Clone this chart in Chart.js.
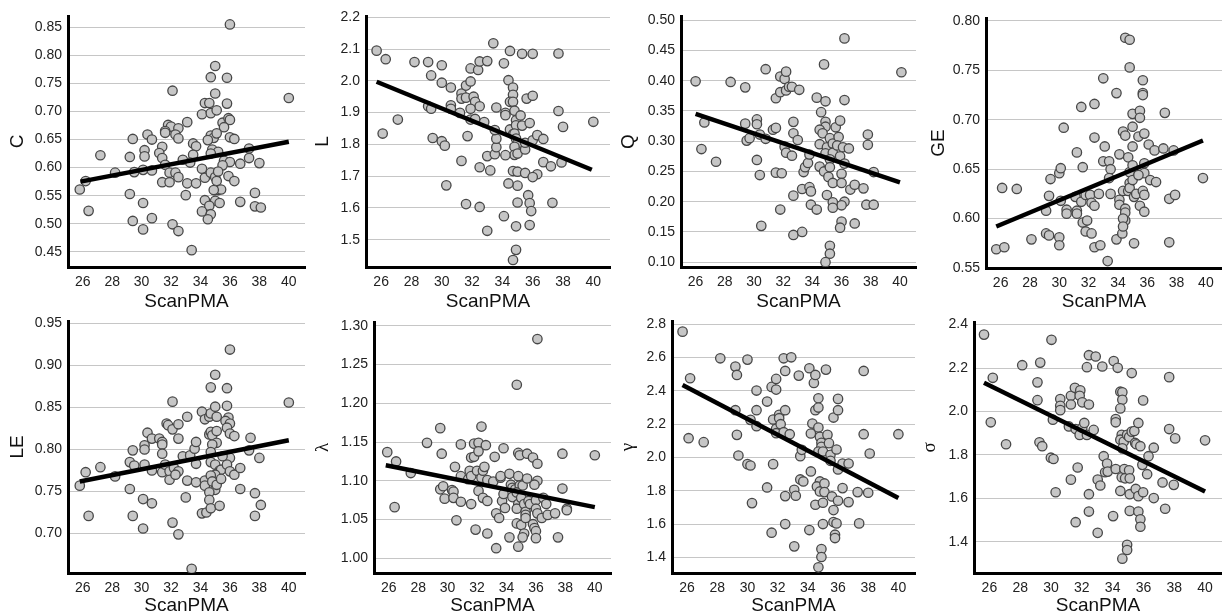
<!DOCTYPE html>
<html>
<head>
<meta charset="utf-8">
<script src="https://cdn.jsdelivr.net/npm/chart.js@4.4.1/dist/chart.umd.min.js"></script>
<style>
  html, body { margin: 0; padding: 0; background: #fff; }
  #wrap { position: relative; width: 1222px; height: 615px; overflow: hidden; }
  canvas { position: absolute; }
</style>
</head>
<body>
<div id="wrap"></div>
<script>
// shared x axis (ScanPMA)
const xTicks = [26, 28, 30, 32, 34, 36, 38, 40];
const xTitle = "ScanPMA";

// --- C ---
const pointsC = [[36.0,0.855],[35.0,0.781],[34.7,0.761],[35.8,0.760],[32.1,0.737],[34.3,0.715],[34.6,0.715],[35.0,0.732],[35.8,0.714],[40.0,0.724],[34.1,0.695],[34.7,0.697],[35.1,0.702],[33.1,0.681],[35.5,0.680],[35.9,0.688],[36.0,0.685],[35.6,0.672],[31.8,0.676],[32.0,0.673],[32.5,0.670],[31.6,0.665],[31.6,0.662],[32.3,0.659],[32.5,0.652],[30.4,0.659],[30.7,0.650],[29.4,0.651],[34.7,0.657],[34.9,0.653],[35.1,0.661],[36.0,0.654],[36.3,0.651],[34.5,0.649],[31.4,0.637],[30.2,0.631],[30.2,0.620],[29.2,0.619],[27.2,0.622],[31.2,0.626],[31.4,0.617],[33.5,0.643],[33.7,0.638],[33.5,0.623],[33.3,0.609],[32.8,0.614],[34.8,0.632],[35.2,0.628],[34.7,0.625],[35.6,0.612],[36.0,0.610],[35.5,0.604],[36.7,0.607],[37.3,0.617],[37.3,0.634],[38.0,0.608],[28.2,0.591],[29.5,0.592],[30.1,0.596],[30.7,0.595],[31.6,0.605],[31.9,0.591],[32.3,0.591],[32.5,0.583],[31.4,0.574],[31.9,0.574],[33.1,0.572],[33.7,0.572],[34.1,0.598],[34.3,0.582],[34.7,0.591],[35.0,0.583],[35.1,0.576],[35.2,0.593],[35.9,0.585],[36.3,0.576],[35.0,0.560],[35.2,0.560],[35.4,0.561],[34.9,0.560],[25.8,0.561],[26.2,0.576],[29.2,0.553],[33.0,0.551],[37.7,0.555],[34.3,0.542],[35.0,0.541],[35.3,0.537],[36.7,0.539],[30.1,0.537],[34.6,0.532],[37.7,0.531],[38.1,0.529],[26.4,0.523],[34.1,0.522],[34.7,0.517],[34.5,0.508],[29.4,0.505],[30.7,0.510],[32.1,0.499],[30.1,0.490],[32.5,0.487],[33.4,0.453]];
const fitC = [[25.85,0.575],[40.0,0.646]];
const ticksC = [0.45,0.50,0.55,0.60,0.65,0.70,0.75,0.80,0.85];

// --- L ---
const pointsL = [[25.7,2.095],[26.3,2.068],[26.1,1.834],[27.1,1.878],[28.2,2.059],[29.1,2.059],[29.3,2.017],[30.0,2.049],[30.0,1.994],[30.6,1.979],[29.1,1.920],[29.3,1.912],[29.4,1.820],[30.0,1.810],[30.2,1.796],[30.3,1.671],[30.6,1.923],[30.6,1.912],[31.2,1.899],[31.3,1.960],[31.3,1.944],[31.6,1.947],[31.6,1.985],[31.9,1.998],[31.9,2.039],[32.4,2.034],[32.5,2.061],[33.0,2.062],[33.4,2.118],[32.1,1.950],[32.2,1.934],[32.5,1.920],[31.9,1.912],[31.9,1.878],[32.2,1.880],[32.8,1.870],[31.7,1.826],[31.3,1.748],[31.6,1.612],[32.5,1.728],[32.5,1.603],[33.0,1.763],[33.2,1.718],[33.0,1.528],[33.5,1.769],[33.6,1.791],[33.6,1.818],[33.6,1.916],[33.5,1.845],[34.1,2.055],[34.4,2.002],[34.5,2.094],[34.7,1.979],[34.7,1.956],[34.5,1.934],[34.7,1.934],[34.2,1.899],[34.2,1.892],[34.8,1.906],[34.5,1.847],[34.7,1.832],[34.9,1.876],[34.9,1.860],[35.2,1.891],[35.3,1.859],[34.8,1.834],[34.9,1.818],[35.0,1.803],[34.8,1.792],[34.8,1.767],[35.0,1.771],[35.5,1.784],[35.5,1.805],[34.2,1.766],[34.7,1.716],[35.0,1.714],[35.5,1.710],[35.0,1.670],[34.4,1.677],[35.7,1.640],[35.8,1.615],[35.9,1.590],[35.0,1.617],[34.1,1.574],[34.9,1.542],[35.8,1.546],[34.9,1.468],[34.7,1.436],[35.3,2.085],[36.0,2.085],[37.7,2.086],[35.6,1.944],[36.0,1.953],[35.8,1.867],[36.0,1.813],[36.3,1.829],[36.7,1.817],[36.3,1.706],[36.0,1.697],[36.7,1.744],[37.2,1.731],[37.7,1.905],[38.0,1.855],[37.9,1.743],[37.3,1.616],[40.0,1.871]];
const fitL = [[25.7,1.997],[39.9,1.720]];
const ticksL = [1.5,1.6,1.7,1.8,1.9,2.0,2.1,2.2];

// --- Q ---
const pointsQ = [[26.0,0.399],[26.6,0.331],[26.4,0.287],[27.4,0.266],[28.4,0.398],[29.4,0.389],[29.4,0.329],[29.5,0.301],[29.7,0.305],[30.2,0.336],[30.2,0.328],[30.4,0.311],[30.8,0.304],[30.8,0.419],[30.2,0.269],[30.4,0.244],[30.5,0.160],[31.3,0.319],[31.5,0.322],[31.5,0.371],[31.8,0.407],[31.8,0.381],[32.1,0.403],[32.2,0.415],[32.2,0.384],[32.4,0.390],[32.6,0.390],[33.1,0.385],[31.5,0.248],[31.9,0.247],[31.8,0.187],[32.1,0.291],[32.2,0.281],[32.6,0.276],[32.7,0.332],[32.7,0.313],[33.0,0.302],[32.7,0.210],[32.7,0.145],[33.3,0.150],[33.3,0.221],[33.4,0.249],[33.5,0.257],[33.7,0.264],[33.8,0.224],[33.9,0.217],[33.9,0.195],[34.3,0.187],[33.8,0.278],[34.3,0.372],[34.6,0.348],[34.8,0.427],[34.9,0.366],[34.9,0.332],[34.9,0.324],[34.5,0.319],[34.7,0.313],[34.5,0.295],[34.5,0.258],[34.8,0.250],[35.0,0.290],[34.9,0.280],[35.2,0.305],[35.4,0.296],[35.4,0.281],[35.2,0.270],[35.2,0.257],[35.1,0.241],[35.4,0.231],[35.6,0.323],[35.8,0.307],[35.7,0.293],[35.9,0.334],[36.2,0.368],[36.1,0.290],[36.5,0.288],[35.9,0.275],[36.2,0.263],[36.0,0.246],[36.0,0.231],[36.2,0.200],[36.0,0.194],[35.0,0.211],[35.4,0.199],[35.4,0.190],[36.0,0.167],[35.9,0.157],[36.9,0.164],[36.6,0.220],[36.9,0.228],[37.5,0.222],[37.7,0.195],[38.2,0.195],[36.2,0.470],[37.8,0.311],[37.8,0.294],[38.2,0.249],[35.2,0.127],[35.2,0.114],[34.9,0.100],[40.1,0.414]];
const fitQ = [[26.0,0.345],[40.0,0.232]];
const ticksQ = [0.10,0.15,0.20,0.25,0.30,0.35,0.40,0.45,0.50];

// --- GE ---
const pointsGE = [[25.7,0.569],[26.25,0.571],[26.1,0.631],[27.1,0.630],[28.1,0.579],[29.1,0.585],[29.3,0.583],[29.1,0.608],[29.3,0.623],[29.4,0.640],[30.0,0.646],[30.1,0.651],[30.3,0.692],[30.0,0.581],[30.0,0.573],[30.1,0.618],[30.5,0.609],[30.5,0.605],[31.1,0.622],[31.2,0.608],[31.2,0.605],[31.2,0.667],[31.5,0.713],[31.5,0.617],[31.6,0.652],[31.6,0.596],[31.8,0.624],[31.9,0.598],[31.8,0.587],[32.1,0.624],[32.2,0.616],[32.4,0.613],[32.2,0.585],[32.4,0.571],[32.4,0.682],[32.4,0.716],[32.7,0.625],[32.8,0.573],[33.0,0.658],[33.0,0.742],[33.1,0.673],[33.3,0.557],[33.4,0.658],[33.5,0.650],[33.4,0.641],[33.5,0.625],[33.9,0.727],[34.1,0.665],[34.1,0.619],[34.1,0.614],[33.9,0.579],[34.3,0.585],[34.35,0.688],[34.5,0.684],[34.35,0.628],[34.5,0.610],[34.5,0.606],[34.5,0.598],[34.35,0.600],[34.35,0.592],[34.5,0.783],[34.8,0.781],[34.8,0.753],[34.7,0.662],[34.8,0.647],[34.7,0.628],[34.8,0.636],[34.8,0.631],[35.0,0.639],[35.0,0.654],[35.0,0.673],[35.0,0.706],[35.0,0.693],[35.1,0.622],[35.25,0.625],[35.1,0.575],[35.4,0.683],[35.5,0.709],[35.5,0.702],[35.7,0.727],[35.7,0.725],[35.7,0.740],[35.8,0.686],[35.8,0.656],[35.8,0.646],[35.4,0.644],[35.5,0.613],[35.8,0.607],[35.7,0.628],[35.8,0.624],[36.1,0.675],[36.2,0.639],[36.5,0.669],[36.6,0.637],[37.1,0.671],[37.2,0.707],[37.5,0.620],[37.9,0.624],[37.5,0.576],[37.8,0.669],[39.8,0.641]];
const fitGE = [[25.7,0.592],[39.8,0.679]];
const ticksGE = [0.55,0.60,0.65,0.70,0.75,0.80];

// --- LE ---
const pointsLE = [[25.8,0.757],[26.2,0.773],[26.4,0.721],[27.2,0.779],[28.2,0.768],[29.2,0.753],[29.2,0.785],[29.4,0.799],[29.4,0.721],[29.5,0.781],[30.2,0.782],[30.1,0.741],[30.1,0.706],[30.2,0.805],[30.2,0.800],[30.4,0.820],[30.7,0.813],[30.7,0.736],[30.7,0.775],[31.2,0.813],[31.4,0.809],[31.4,0.806],[31.4,0.795],[31.4,0.773],[31.6,0.782],[31.7,0.831],[31.8,0.829],[32.1,0.857],[32.1,0.824],[32.5,0.830],[32.5,0.813],[31.9,0.774],[31.9,0.764],[32.2,0.778],[32.5,0.774],[32.3,0.770],[32.1,0.713],[32.5,0.699],[32.8,0.792],[33.0,0.743],[33.1,0.839],[33.1,0.763],[33.3,0.793],[33.6,0.801],[33.7,0.809],[33.7,0.783],[33.7,0.761],[33.4,0.658],[34.1,0.845],[34.3,0.836],[34.3,0.763],[34.3,0.757],[34.1,0.724],[34.4,0.725],[34.7,0.874],[35.0,0.889],[34.6,0.839],[34.7,0.843],[35.0,0.851],[35.1,0.839],[34.6,0.818],[34.7,0.821],[34.8,0.817],[35.1,0.822],[35.1,0.808],[34.8,0.806],[34.7,0.797],[34.7,0.785],[35.0,0.782],[35.3,0.775],[35.4,0.776],[35.0,0.770],[34.7,0.769],[34.8,0.762],[35.0,0.752],[35.1,0.758],[34.6,0.749],[34.6,0.740],[34.7,0.730],[35.3,0.733],[35.4,0.765],[35.8,0.873],[35.8,0.852],[35.9,0.838],[35.7,0.834],[36.0,0.831],[35.8,0.826],[36.0,0.819],[36.3,0.816],[36.0,0.790],[35.8,0.782],[36.0,0.774],[36.3,0.770],[35.5,0.792],[36.7,0.778],[36.7,0.753],[36.0,0.919],[37.4,0.814],[37.3,0.799],[38.0,0.790],[37.7,0.748],[37.7,0.721],[38.1,0.734],[40.0,0.856]];
const fitLE = [[25.8,0.762],[40.0,0.811]];
const ticksLE = [0.70,0.75,0.80,0.85,0.90,0.95];

// --- lambda ---
const pointsLambda = [[25.9,1.137],[26.5,1.125],[26.4,1.066],[27.5,1.110],[28.6,1.149],[29.5,1.168],[29.6,1.135],[29.5,1.089],[29.7,1.093],[29.8,1.077],[30.3,1.088],[30.4,1.086],[30.4,1.078],[30.5,1.118],[30.9,1.147],[30.9,1.106],[30.9,1.073],[30.6,1.049],[31.4,1.102],[31.5,1.113],[31.6,1.106],[31.6,1.070],[31.6,1.130],[31.8,1.131],[31.8,1.148],[32.1,1.149],[32.1,1.138],[32.3,1.170],[32.6,1.146],[32.0,1.113],[32.1,1.087],[32.3,1.104],[32.4,1.113],[32.5,1.118],[32.7,1.101],[32.4,1.078],[32.7,1.074],[31.9,1.037],[32.7,1.032],[33.2,1.131],[33.1,1.099],[33.3,1.058],[33.5,1.052],[33.3,1.013],[33.6,1.104],[33.6,1.106],[33.8,1.142],[33.7,1.074],[33.8,1.083],[33.9,1.065],[34.2,1.027],[34.2,1.109],[34.3,1.095],[34.4,1.091],[34.4,1.079],[34.6,1.089],[34.7,1.224],[34.8,1.136],[34.9,1.133],[34.8,1.106],[34.9,1.094],[34.7,1.085],[34.8,1.070],[34.7,1.064],[34.7,1.045],[34.8,1.015],[35.0,1.078],[35.1,1.094],[35.0,1.043],[35.2,1.032],[35.1,1.027],[35.2,1.070],[35.3,1.060],[35.3,1.056],[35.3,1.052],[35.4,1.103],[35.4,1.135],[35.5,1.074],[35.6,1.070],[35.8,1.130],[36.1,1.122],[36.1,1.100],[35.9,1.095],[36.0,1.075],[36.0,1.064],[35.8,1.044],[35.9,1.039],[36.0,1.035],[36.0,1.026],[36.1,1.058],[36.4,1.052],[36.5,1.078],[36.7,1.070],[36.8,1.056],[37.3,1.058],[37.5,1.027],[37.8,1.135],[37.8,1.090],[38.1,1.064],[38.1,1.062],[36.1,1.283],[40.0,1.133]];
const fitLambda = [[25.8,1.120],[40.0,1.066]];
const ticksLambda = [1.00,1.05,1.10,1.15,1.20,1.25,1.30];

// --- gamma ---
const pointsGamma = [[25.7,2.756],[26.2,2.476],[26.1,2.116],[27.1,2.092],[28.2,2.596],[29.2,2.546],[29.3,2.496],[29.2,2.284],[29.3,2.136],[29.4,2.012],[30.0,2.588],[30.2,2.226],[30.0,1.960],[30.2,1.952],[30.3,1.726],[30.6,2.402],[30.6,2.284],[30.6,2.188],[31.3,2.336],[31.3,1.820],[31.6,2.424],[31.7,2.228],[31.6,1.548],[31.7,1.960],[31.9,2.472],[31.9,2.408],[31.9,2.172],[31.9,2.146],[32.1,2.256],[32.1,2.236],[32.2,2.200],[32.4,2.596],[32.4,2.152],[32.5,2.520],[32.5,2.284],[32.5,1.768],[32.5,1.600],[32.8,2.140],[32.9,2.602],[33.1,1.806],[33.2,1.770],[33.1,1.466],[33.4,2.492],[33.5,2.008],[33.6,2.046],[33.5,1.868],[33.7,1.856],[34.1,2.536],[34.3,2.204],[34.2,2.144],[34.2,1.916],[34.1,1.564],[34.4,2.448],[34.5,2.496],[34.5,2.284],[34.7,2.356],[34.7,2.300],[34.7,2.180],[34.8,2.124],[34.9,2.088],[34.9,2.064],[34.7,2.036],[34.8,1.856],[34.6,1.826],[34.8,1.796],[34.5,1.716],[35.1,1.844],[35.1,1.792],[35.0,1.728],[35.0,1.600],[34.9,1.450],[34.9,1.402],[34.7,1.340],[35.2,2.528],[35.3,2.136],[35.4,2.086],[35.0,2.036],[35.5,2.016],[35.5,1.980],[35.6,1.766],[35.7,1.684],[35.7,1.612],[35.9,1.604],[35.8,1.536],[35.8,1.516],[35.7,2.240],[36.0,2.352],[36.0,2.284],[35.9,2.048],[36.0,1.928],[36.0,1.740],[36.3,1.816],[36.3,1.964],[36.7,1.964],[36.7,1.732],[37.3,1.792],[37.4,1.604],[37.7,2.520],[37.7,2.140],[38.1,2.024],[38.0,1.788],[40.0,2.140]];
const fitGamma = [[25.7,2.436],[40.0,1.756]];
const ticksGamma = [1.4,1.6,1.8,2.0,2.2,2.4,2.6,2.8];

// --- sigma ---
const pointsSigma = [[25.65,2.354],[26.22,2.155],[26.09,1.950],[27.08,1.849],[28.13,2.213],[29.30,2.225],[29.12,2.134],[29.12,2.052],[29.25,1.858],[29.43,1.840],[30.03,2.330],[29.99,1.787],[30.16,1.781],[30.12,1.962],[30.30,1.628],[30.60,2.057],[30.60,2.026],[30.60,2.006],[31.16,1.931],[31.29,2.072],[31.29,2.032],[31.29,1.686],[31.55,2.109],[31.60,1.919],[31.60,1.490],[31.73,1.742],[31.90,2.097],[31.86,2.072],[31.86,1.892],[32.03,2.042],[32.03,1.925],[32.16,1.947],[32.33,2.204],[32.33,1.892],[32.46,2.259],[32.46,2.032],[32.46,1.619],[32.46,1.539],[32.90,2.253],[32.77,1.915],[33.03,1.686],[33.03,1.441],[33.20,1.659],[33.33,2.207],[33.42,1.794],[33.64,1.760],[33.51,1.720],[33.68,1.723],[34.07,2.232],[34.33,2.201],[34.20,1.965],[34.20,1.950],[34.20,1.735],[34.03,1.518],[34.50,2.091],[34.63,2.088],[34.63,2.054],[34.50,2.014],[34.59,1.892],[34.50,1.870],[34.72,1.861],[34.63,1.830],[34.50,1.634],[34.59,1.697],[34.76,1.735],[34.81,1.692],[35.07,1.729],[35.11,1.692],[34.94,1.892],[35.07,1.882],[35.24,1.907],[35.41,1.910],[35.11,1.619],[35.11,1.542],[34.94,1.386],[34.94,1.362],[34.63,1.322],[35.24,2.177],[35.46,1.855],[35.54,1.849],[35.80,1.840],[35.67,1.947],[35.50,1.643],[35.67,1.610],[35.98,1.628],[35.67,1.539],[35.80,1.503],[35.80,1.469],[35.98,2.051],[35.93,1.754],[36.24,1.711],[36.33,1.794],[36.67,1.833],[36.67,1.601],[37.24,1.673],[37.41,1.552],[37.67,2.158],[37.67,1.919],[38.06,1.876],[37.97,1.662],[40.0,1.867]];
const fitSigma = [[25.65,2.132],[40.0,1.631]];
const ticksSigma = [1.4,1.6,1.8,2.0,2.2,2.4];

const SANS = "'Liberation Sans', Arial, sans-serif";
const SERIF = "'Liberation Serif', 'Times New Roman', serif";

// panel placement on the page
const panels = [
  { label: "C",  points: pointsC,  fit: fitC,  ticks: ticksC,  yMin: 0.423, yMax: 0.870, dec: 2, left: 0,   top: 0,   w: 311, h: 311, yW: 68, padTop: 16, xH: 44, tPad: 8 },
  { label: "L",  points: pointsL,  fit: fitL,  ticks: ticksL,  yMin: 1.414, yMax: 2.204, dec: 1, left: 305, top: 0,   w: 311, h: 311, yW: 61, padTop: 16, xH: 44, tPad: 8 },
  { label: "Q",  points: pointsQ,  fit: fitQ,  ticks: ticksQ,  yMin: 0.092, yMax: 0.507, dec: 2, left: 610, top: 0,   w: 312, h: 311, yW: 71, padTop: 16, xH: 44, tPad: 9 },
  { label: "GE", points: pointsGE, fit: fitGE, ticks: ticksGE, yMin: 0.550, yMax: 0.803, dec: 2, left: 912, top: 0,   w: 316, h: 311, yW: 74, padTop: 18, xH: 43, tPad: 17 },
  { label: "LE", points: pointsLE, fit: fitLE, ticks: ticksLE, yMin: 0.653, yMax: 0.953, dec: 2, left: 0,   top: 305, w: 311, h: 310, yW: 68, padTop: 16, xH: 42, tPad: 8 },
  { label: "\u03bb", greek: true, points: pointsLambda, fit: fitLambda, ticks: ticksLambda, yMin: 0.981, yMax: 1.305, dec: 2, left: 305, top: 305, w: 312, h: 310, yW: 69, padTop: 17, xH: 42, tPad: 9 },
  { label: "\u03b3", greek: true, points: pointsGamma, fit: fitGamma, ticks: ticksGamma, yMin: 1.306, yMax: 2.820, dec: 1, left: 610, top: 305, w: 311, h: 310, yW: 62, padTop: 16, xH: 42, tPad: 9 },
  { label: "\u03c3", greek: true, points: pointsSigma, fit: fitSigma, ticks: ticksSigma, yMin: 1.256, yMax: 2.412, dec: 1, left: 912, top: 305, w: 316, h: 310, yW: 62, padTop: 17, xH: 42, tPad: 9 }
];

const toXY = arr => arr.map(([x, y]) => ({ x, y }));

function makePanel(p) {
  const canvas = document.createElement("canvas");
  canvas.width = p.w;
  canvas.height = p.h;
  canvas.style.left = p.left + "px";
  canvas.style.top = p.top + "px";
  canvas.style.width = p.w + "px";
  canvas.style.height = p.h + "px";
  document.getElementById("wrap").appendChild(canvas);

  return new Chart(canvas.getContext("2d"), {
    type: "scatter",
    data: {
      datasets: [
        {
          type: "line",
          data: toXY(p.fit),
          borderColor: "#000",
          borderWidth: 4.5,
          pointRadius: 0,
          fill: false,
          order: 0
        },
        {
          type: "scatter",
          data: toXY(p.points),
          pointRadius: 4.7,
          backgroundColor: "#c6c6c6",
          borderColor: "#474747",
          borderWidth: 1.3,
          order: 1
        }
      ]
    },
    options: {
      responsive: false,
      animation: false,
      devicePixelRatio: 1,
      events: [],
      layout: { padding: { top: p.padTop, left: 0, right: 0, bottom: 0 } },
      plugins: { legend: { display: false }, tooltip: { enabled: false } },
      scales: {
        x: {
          type: "linear",
          min: 25,
          max: 41.1,
          afterBuildTicks: ax => { ax.ticks = xTicks.map(v => ({ value: v })); },
          afterFit: ax => { ax.height = p.xH; },
          grid: { display: false, drawTicks: false },
          border: { display: true, color: "#000", width: 3 },
          ticks: { padding: 7, autoSkip: false, maxRotation: 0, color: "#222", font: { family: SANS, size: 14 } },
          title: { display: true, text: xTitle, color: "#111", padding: { top: 0, bottom: 0 },
                   font: { family: SANS, size: 19, lineHeight: 1 } }
        },
        y: {
          type: "linear",
          min: p.yMin,
          max: p.yMax,
          afterBuildTicks: ax => { ax.ticks = p.ticks.map(v => ({ value: v })); },
          afterFit: ax => { ax.width = p.yW; },
          grid: { color: "#c6c6c6", lineWidth: 1, drawTicks: false },
          border: { display: true, color: "#000", width: 3 },
          ticks: { padding: 6, autoSkip: false, color: "#222", font: { family: SANS, size: 14 },
                   callback: v => Number(v).toFixed(p.dec) },
          title: { display: true, text: p.label, color: "#111", padding: { top: p.tPad, bottom: 0 },
                   font: p.greek ? { family: SERIF, size: 19, lineHeight: 1 } : { family: SANS, size: 19, lineHeight: 1 } }
        }
      }
    }
  });
}

panels.forEach(makePanel);
</script>
</body>
</html>
